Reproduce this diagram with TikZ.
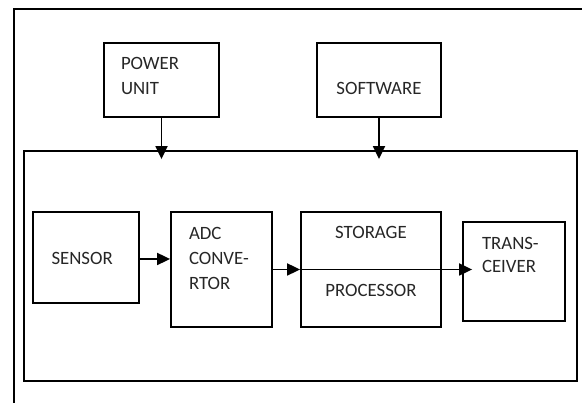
\documentclass[tikz,border=0pt]{standalone}
\usepackage{fontspec}
\setmainfont{Carlito}
\usetikzlibrary{arrows.meta}

\begin{document}
\begin{tikzpicture}[x=1pt,y=1pt,
    box/.style={draw,line width=1.8pt,inner ysep=0pt,text=black!85,
      font=\fontsize{18.8pt}{25pt}\selectfont},
    arr/.style={line width=1.8pt,-{Triangle[length=13pt,width=12pt]}}]
      \useasboundingbox (0,0) rectangle (582,403);
      \draw[line width=1.8pt] (14,0) -- (14,394) -- (582,394);
      % outer unit
      \node[box,minimum width=553pt,minimum height=230pt] (main) at (300.5,137) {};
      % top blocks
      \node[box,minimum width=115pt,minimum height=74pt,align=left,
        inner xsep=17pt,text width=81pt,text height=0pt,text depth=20pt]
        (pwr) at (161.5,323) {POWER\\UNIT};
      \node[box,minimum width=124pt,minimum height=74pt,align=center,
        text height=30pt,text depth=0pt] (soft) at (379,323) {SOFTWARE};
      % inner blocks
      \node[box,minimum width=106pt,minimum height=91pt,align=left,
        inner xsep=18.5pt,text width=69pt,text height=13.6pt,text depth=0pt]
        (sens) at (86,145.5) {SENSOR};
      \node[box,minimum width=101pt,minimum height=115pt,align=left,
        inner xsep=18pt,text width=65pt,text height=0pt,text depth=59pt]
        (adc) at (221.5,133.5) {ADC\\CONVE-\\RTOR};
      \node[box,minimum width=140pt,minimum height=115pt,align=center,
        inner xsep=10pt,text width=120pt,text height=0pt,text depth=62pt]
        (stor) at (371,133.5) {STORAGE\\[33pt]PROCESSOR};
      \node[box,minimum width=102pt,minimum height=99pt,align=left,
        inner xsep=19pt,text width=64pt,text height=0pt,text depth=43pt,
        font=\fontsize{18.8pt}{23pt}\selectfont]
        (trans) at (514,131.5) {TRANS-\\CEIVER};
      % connectors
      \draw[arr] (pwr.south) -- ([yshift=-9pt]pwr.south |- main.north);
      \draw[arr] (soft.south) -- ([yshift=-9pt]soft.south |- main.north);
      \draw[arr] ([yshift=-1.5pt]sens.east) -- ([yshift=-1.5pt]sens.east -| adc.west);
      \draw[arr] (adc.east) -- (stor.west);
      \draw[arr] (stor.west) -- ([xshift=10pt]trans.west |- stor.west);
\end{tikzpicture}
\end{document}
